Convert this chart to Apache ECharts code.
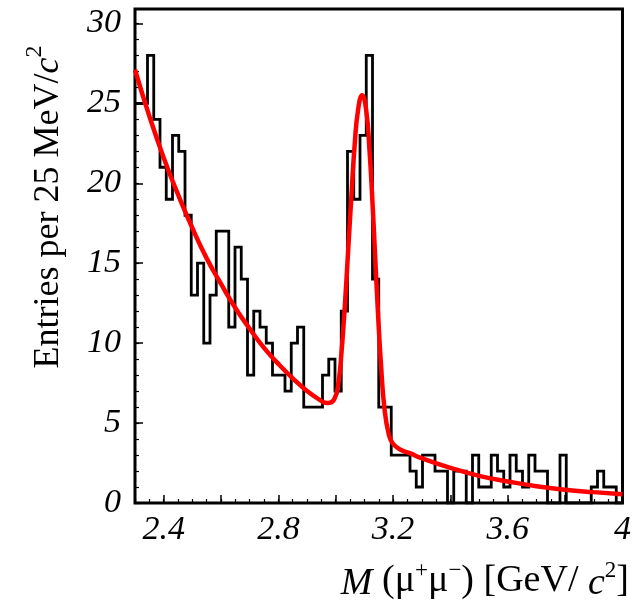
<!DOCTYPE html>
<html>
<head>
<meta charset="utf-8">
<script src="https://cdn.jsdelivr.net/npm/echarts@6/dist/echarts.min.js"></script>
<style>
  html, body { margin: 0; padding: 0; background: #fff; }
  #chart { width: 634px; height: 604px; }
</style>
</head>
<body>
<div id="chart"></div>
<script>
// Dimuon invariant-mass spectrum with the signal + background fit overlaid.

// Histogram range and number of bins (GeV/c^2)
const massLo = 2.3;
const massHi = 4.0;
const nBins = 78;

// Entries in each mass bin, from low to high mass
const binCounts = [
  25, 25, 28, 24, 21, 19, 23, 22, 18, 13,
  15, 10, 13, 17, 17, 11, 16, 14, 8, 12,
  11, 10, 8, 8, 7, 10, 11, 6, 6, 6,
  8, 9, 7, 12, 22, 19, 23, 28, 14, 6,
  6, 3, 3, 3, 2, 1, 3, 3, 2, 2,
  0, 2, 2, 0, 3, 1, 1, 3, 2, 1,
  3, 2, 1, 3, 2, 2, 0, 0, 3, 0,
  0, 0, 0, 1, 2, 1, 1, 0
];

// Fitted curve: mass (GeV/c^2) and expected entries per bin
const fitMass = [
  2.30, 2.35, 2.40, 2.45, 2.50, 2.55, 2.60, 2.65, 2.70, 2.75,
  2.80, 2.85, 2.90, 2.94, 2.97, 2.995, 3.01, 3.02, 3.032, 3.043,
  3.055, 3.066, 3.078, 3.092, 3.106, 3.118, 3.127, 3.137, 3.147, 3.158,
  3.17, 3.185, 3.20, 3.23, 3.26, 3.30, 3.40, 3.50, 3.60, 3.70,
  3.80, 3.90, 4.00
];
const fitValue = [
  27.1, 24.2, 21.6, 19.3, 17.2, 15.3, 13.7, 12.2, 10.9, 9.7,
  8.7, 7.8, 7.0, 6.5, 6.25, 6.5, 7.6, 9.4, 12.4, 15.7,
  19.3, 22.4, 24.6, 25.5, 24.6, 22.0, 19.2, 15.6, 12.0, 8.6,
  5.9, 4.3, 3.7, 3.3, 3.1, 2.8, 2.2, 1.7, 1.35, 1.05,
  0.83, 0.68, 0.55
];

// Axis ticks
const xTickLabels = [2.4, 2.8, 3.2, 3.6, 4];
const xMajorTicks = [2.4, 2.6, 2.8, 3.0, 3.2, 3.4, 3.6, 3.8, 4.0];
const yTickLabels = [0, 5, 10, 15, 20, 25, 30];
const yMax = 30.9;

const xMinorTicks = [];
for (let k = 0; k <= 34; k++) xMinorTicks.push(+(massLo + 0.05 * k).toFixed(2));
const yMinorTicks = [];
for (let k = 0; k <= 30; k++) yMinorTicks.push(k);

// Step outline: each bin's left edge carries its count, closed at the upper edge
const binWidth = (massHi - massLo) / nBins;
const histLine = binCounts.map((c, i) => [massLo + i * binWidth, c]);
histLine.push([massHi, binCounts[binCounts.length - 1]]);

const fitLine = fitMass.map((m, i) => [m, fitValue[i]]);

const serif = '"Liberation Serif", "DejaVu Serif", serif';

const chart = echarts.init(document.getElementById('chart'), null, { renderer: 'canvas' });

const tickLabelStyle = {
  fontFamily: serif,
  fontStyle: 'italic',
  fontSize: 34,
  color: '#000'
};

chart.setOption({
  animation: false,
  backgroundColor: '#fff',
  grid: {
    left: 135, right: 3, top: 9, bottom: 101,
    show: true, borderColor: '#000', borderWidth: 3,
    containLabel: false
  },
  xAxis: [
    {
      type: 'value', min: massLo, max: massHi,
      axisLine: { show: false },
      splitLine: { show: false },
      axisTick: {
        show: true, inside: true, length: 8,
        customValues: xMajorTicks,
        lineStyle: { color: '#000', width: 1.5 }
      },
      axisLabel: {
        ...tickLabelStyle,
        margin: 10,
        customValues: xTickLabels,
        formatter: v => String(+v.toFixed(1))
      }
    },
    {
      type: 'value', min: massLo, max: massHi,
      position: 'bottom',
      axisLine: { show: false },
      splitLine: { show: false },
      axisLabel: { show: false },
      axisTick: {
        show: true, inside: true, length: 4,
        customValues: xMinorTicks,
        lineStyle: { color: '#000', width: 1.2 }
      }
    }
  ],
  yAxis: [
    {
      type: 'value', min: 0, max: yMax,
      axisLine: { show: false },
      splitLine: { show: false },
      axisTick: {
        show: true, inside: true, length: 8,
        customValues: yTickLabels,
        lineStyle: { color: '#000', width: 1.5 }
      },
      axisLabel: {
        ...tickLabelStyle,
        margin: 14,
        customValues: yTickLabels,
        formatter: v => String(v)
      }
    },
    {
      type: 'value', min: 0, max: yMax,
      position: 'left',
      axisLine: { show: false },
      splitLine: { show: false },
      axisLabel: { show: false },
      axisTick: {
        show: true, inside: true, length: 4,
        customValues: yMinorTicks,
        lineStyle: { color: '#000', width: 1.2 }
      }
    }
  ],
  series: [
    {
      name: 'data',
      type: 'line',
      xAxisIndex: 0, yAxisIndex: 0,
      data: histLine,
      step: 'end',
      symbol: 'none',
      clip: true,
      lineStyle: { color: '#000', width: 2.8, join: 'miter' },
      z: 2
    },
    {
      name: 'fit',
      type: 'line',
      xAxisIndex: 0, yAxisIndex: 0,
      data: fitLine,
      smooth: true,
      symbol: 'none',
      clip: true,
      lineStyle: { color: '#ff0000', width: 4.5 },
      z: 3
    }
  ],
  graphic: [
    {
      type: 'text',
      x: 45, y: 207,
      rotation: Math.PI / 2,
      style: {
        text: '{n|Entries per 25 MeV/}{i|c}{s|2}',
        textAlign: 'center',
        textVerticalAlign: 'middle',
        fill: '#000',
        rich: {
          n: { fontFamily: serif, fontSize: 36, lineHeight: 44, verticalAlign: 'bottom' },
          i: { fontFamily: serif, fontSize: 36, fontStyle: 'italic', lineHeight: 44, verticalAlign: 'bottom' },
          s: { fontFamily: serif, fontSize: 24, lineHeight: 44, verticalAlign: 'top' }
        }
      }
    },
    {
      type: 'text',
      x: 629, y: 603,
      style: {
        text: '{i|M} (μ{s|+}μ{s|−}) [GeV/ {i|c}{s|2}]',
        textAlign: 'right',
        textVerticalAlign: 'bottom',
        fill: '#000',
        fontFamily: serif,
        fontSize: 38,
        rich: {
          i: { fontFamily: serif, fontSize: 38, fontStyle: 'italic', lineHeight: 44, verticalAlign: 'bottom' },
          s: { fontFamily: serif, fontSize: 23, lineHeight: 44, verticalAlign: 'top' }
        }
      }
    }
  ]
});
</script>
</body>
</html>
